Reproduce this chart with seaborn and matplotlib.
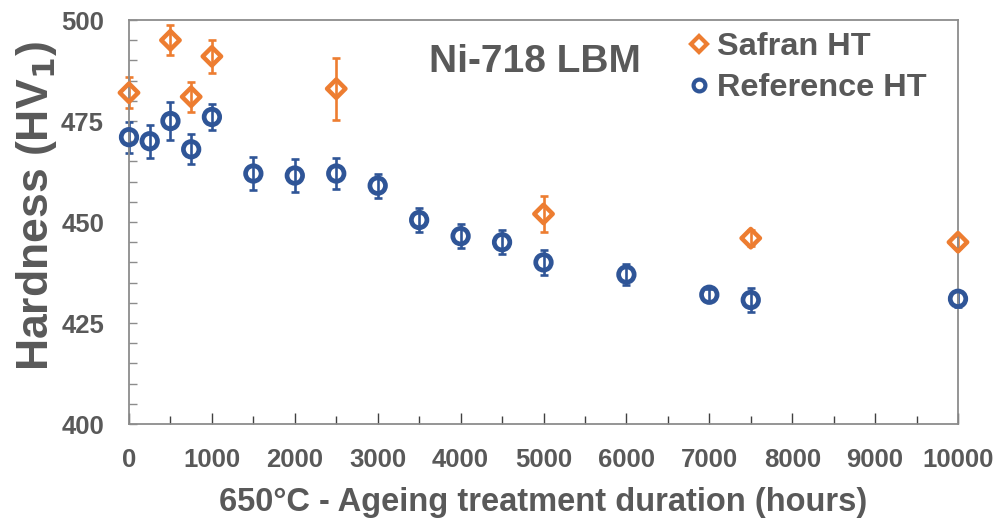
import numpy as np
import pandas as pd
import seaborn as sns
import matplotlib
matplotlib.use("Agg")
import matplotlib.pyplot as plt
from matplotlib.ticker import MultipleLocator
from matplotlib.lines import Line2D

# Data
safran_hours = [0, 500, 750, 1000, 2500, 5000, 7500, 10000]
safran_hv = [482, 495, 481, 491, 483, 452, 446, 445]
safran_err = [3.8, 3.7, 3.7, 4.1, 7.7, 4.5, 2.0, 1.5]

ref_hours = [0, 250, 500, 750, 1000, 1500, 2000, 2500, 3000, 3500, 4000, 4500, 5000, 6000, 7000, 7500, 10000]
ref_hv = [471, 470, 475, 468, 476, 462, 461.5, 462, 459, 450.5, 446.5, 445, 440, 437, 432, 430.7, 431]
ref_err = [3.8, 4.1, 4.6, 3.7, 3.3, 4.0, 4.0, 3.8, 3.0, 3.0, 3.0, 3.0, 3.0, 2.5, 1.5, 3.0, 2.0]

series_names = ["Safran HT", "Reference HT"]
title_text = "Ni-718 LBM"
xlabel = "650°C - Ageing treatment duration (hours)"
ylabel = "Hardness (HV$_\\mathbf{1}$)"

ORANGE = "#ED7D31"
BLUE = "#2F5597"
GRAY = "#595959"
SPINE = "#8C8C8C"

sns.set_theme(style="white")
plt.rcParams['font.family'] = ['Liberation Sans', 'DejaVu Sans']
plt.rcParams['font.weight'] = 'bold'
plt.rcParams['mathtext.default'] = 'bf'

fig = plt.figure(figsize=(10, 5.2), dpi=100)
ax = fig.add_axes([0.129, 0.1846, 0.829, 0.7769])

df_s = pd.DataFrame({"hours": safran_hours, "hv": safran_hv, "err": safran_err})
df_r = pd.DataFrame({"hours": ref_hours, "hv": ref_hv, "err": ref_err})

for df, col in [(df_s, ORANGE), (df_r, BLUE)]:
    eb = ax.errorbar(df["hours"], df["hv"], yerr=df["err"], fmt="none",
                     ecolor=col, elinewidth=1.9, capsize=2.8, capthick=1.9, zorder=2)
    for art in eb.lines[1] + eb.lines[2]:
        art.set_clip_on(False)

sns.scatterplot(data=df_s, x="hours", y="hv", ax=ax, marker="D", s=88,
                facecolor="none", edgecolor=ORANGE, linewidth=3.2, zorder=3, clip_on=False)
sns.scatterplot(data=df_r, x="hours", y="hv", ax=ax, marker="o", s=125,
                facecolor="none", edgecolor=BLUE, linewidth=3.4, zorder=3, clip_on=False)

ax.set_xlim(0, 10000)
ax.set_ylim(400, 500)
ax.xaxis.set_major_locator(MultipleLocator(1000))
ax.xaxis.set_minor_locator(MultipleLocator(500))
ax.yaxis.set_major_locator(MultipleLocator(25))
ax.yaxis.set_minor_locator(MultipleLocator(5))

ax.tick_params(axis="x", which="major", direction="in", length=8, width=1, color="#404040",
               labelsize=18.5, labelcolor=GRAY, pad=17, bottom=True)
ax.tick_params(axis="x", which="minor", direction="in", length=6, width=1, color="#404040", bottom=True)
ax.tick_params(axis="y", which="major", direction="in", length=6, width=1, color=SPINE,
               labelsize=18.5, labelcolor=GRAY, pad=18, left=True)
ax.tick_params(axis="y", which="minor", direction="in", length=6, width=1, color=SPINE, left=True)
for lab in ax.get_xticklabels() + ax.get_yticklabels():
    lab.set_fontweight("bold")

for sp in ax.spines.values():
    sp.set_color(SPINE)
    sp.set_linewidth(1.3)

ax.set_xlabel(xlabel, fontsize=23.5, color=GRAY, fontweight="bold", labelpad=11)
ax.set_ylabel(ylabel, fontsize=32, color=GRAY, fontweight="bold")
ax.yaxis.label.set_verticalalignment("center")
ax.yaxis.set_label_coords(-0.112, 0.54)

ax.text(0.49, 0.895, title_text, transform=ax.transAxes, ha="center", va="center",
        fontsize=28, color=GRAY, fontweight="bold")

handles = [
    Line2D([], [], marker="D", linestyle="none", markerfacecolor="none",
           markeredgecolor=ORANGE, markeredgewidth=3, markersize=8),
    Line2D([], [], marker="o", linestyle="none", markerfacecolor="none",
           markeredgecolor=BLUE, markeredgewidth=3, markersize=8.5),
]
leg = ax.legend(handles, series_names, loc="upper left", bbox_to_anchor=(0.639, 1.042),
                frameon=False, handlelength=0.7, handletextpad=0.2, labelspacing=0.33,
                borderpad=0.4, prop={"size": 23.4, "weight": "bold"})
for t in leg.get_texts():
    t.set_color(GRAY)

fig.savefig("out.png", dpi=100)
